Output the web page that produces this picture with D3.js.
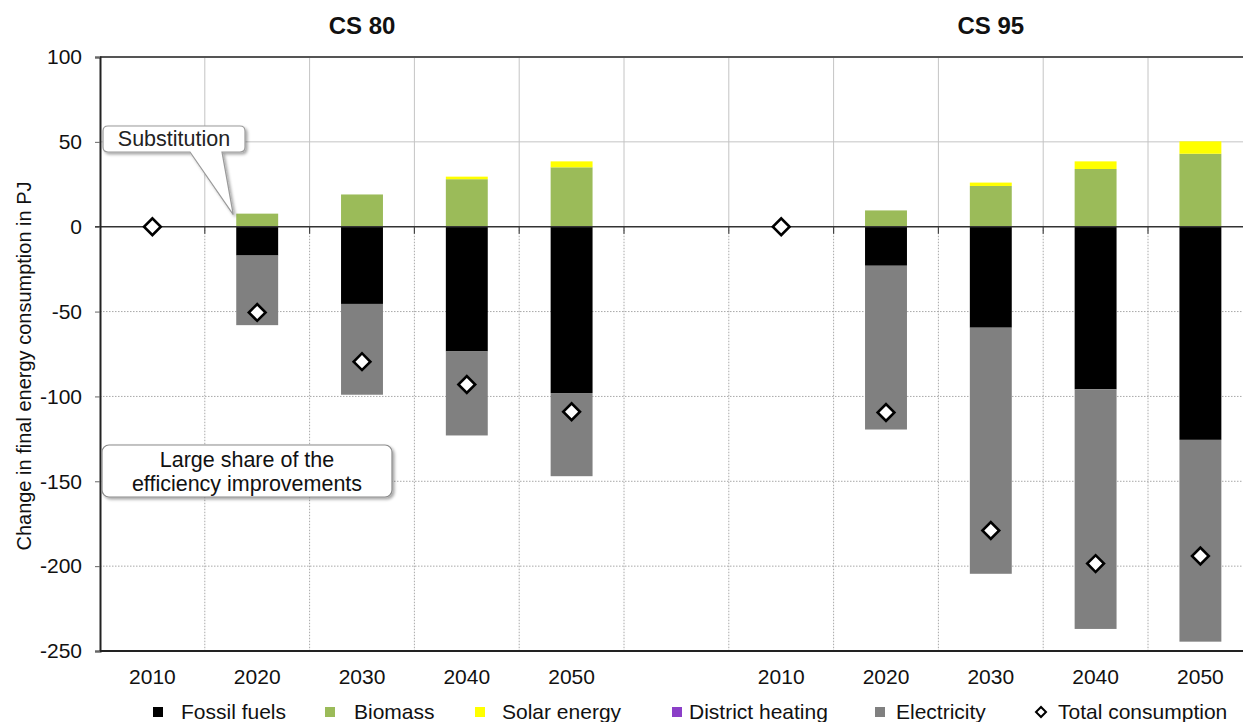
<!DOCTYPE html>
<html>
<head>
<meta charset="utf-8">
<script src="https://cdn.jsdelivr.net/npm/d3@7"></script>
<style>
  html, body { margin: 0; padding: 0; background: #fff; }
  svg { display: block; font-family: "Liberation Sans", Arial, sans-serif; }
</style>
</head>
<body>
<svg id="chart" width="1243" height="722"></svg>
<script>
// ---------------- DATA ----------------
const scenarios = ["CS 80", "CS 95"];
const years = ["2010", "2020", "2030", "2040", "2050"];
const seriesNames = ["Fossil fuels", "Biomass", "Solar energy", "District heating", "Electricity"];
const seriesColors = ["#000000", "#9bbb59", "#ffff00", "#8b3fc8", "#808080"];
const totalName = "Total consumption";

// CS 80
const fossil80   = [0, -17,   -45.5, -73.5, -98];
const biomass80  = [0,   7.7,  19,    28,    35];
const solar80    = [0,   0,     0,     1.5,   3.5];
const district80 = [0,   0,     0,     0,     0];
const elec80     = [0, -41,   -53.5, -49.5, -49];
const total80    = [0, -50.5, -79.5, -93,  -109];

// CS 95
const fossil95   = [0, -23,   -59.5, -95.8, -125.6];
const biomass95  = [0,   9.6,  24,    34,     43];
const solar95    = [0,   0,     2,     4.5,    7.3];
const district95 = [0,   0,     0,     0,      0];
const elec95     = [0, -96.5, -145, -141.2, -118.9];
const total95    = [0, -109.5, -179, -198.5, -194];

const yTicks = [100, 50, 0, -50, -100, -150, -200, -250];

// ---------------- BUILD ----------------
(function () {
const FS = 21;
const keys = ["fossil", "biomass", "solar", "district", "elec"];
const sets = [
  {fossil: fossil80, biomass: biomass80, solar: solar80, district: district80, elec: elec80, total: total80},
  {fossil: fossil95, biomass: biomass95, solar: solar95, district: district95, elec: elec95, total: total95}
];
const rows = [];
const slots = [];
scenarios.forEach((s, si) => {
  years.forEach((yr, yi) => {
    const id = s + "|" + yr;
    slots.push(id);
    const r = {id, scenario: s, year: yr, total: sets[si].total[yi]};
    keys.forEach(k => r[k] = sets[si][k][yi]);
    rows.push(r);
  });
  if (si === 0) slots.push("gap");
});

const svg = d3.select("#chart");
const W = 1243;
const pLeft = 100, pTop = 57, pBottom = 651;

const x = d3.scaleBand().domain(slots).range([pLeft, 1252.8]).padding(0);
const y = d3.scaleLinear().domain([-250, 100]).range([pBottom, pTop]);
const step = x.step();
const bw = step * 0.40;

const defs = svg.append("defs");
const f = defs.append("filter").attr("id", "shadow").attr("x", "-10%").attr("y", "-20%").attr("width", "130%").attr("height", "160%");
f.append("feDropShadow").attr("dx", 2).attr("dy", 2).attr("stdDeviation", 1.6).attr("flood-color", "#000").attr("flood-opacity", 0.35);

const clip = defs.append("clipPath").attr("id", "plotclip");
clip.append("rect").attr("x", pLeft).attr("y", pTop).attr("width", W - pLeft).attr("height", pBottom - pTop);

// Gridlines
const grid = svg.append("g").attr("clip-path", "url(#plotclip)");
const bounds = d3.range(1, slots.length + 1).map(i => pLeft + i * step);
grid.selectAll("line.vup").data(bounds).join("line")
  .attr("x1", d => d).attr("x2", d => d).attr("y1", pTop).attr("y2", y(0))
  .attr("stroke", "#c4c4c4").attr("stroke-width", 1);
grid.selectAll("line.vdn").data(bounds).join("line")
  .attr("x1", d => d).attr("x2", d => d).attr("y1", y(0)).attr("y2", pBottom)
  .attr("stroke", "#a8a8a8").attr("stroke-width", 1).attr("stroke-dasharray", "1.5,1.5");
const hg = yTicks.filter(v => v !== 100 && v !== 0 && v !== -250);
grid.selectAll("line.h").data(hg).join("line")
  .attr("x1", pLeft).attr("x2", W).attr("y1", d => y(d)).attr("y2", d => y(d))
  .attr("stroke", d => d > 0 ? "#c4c4c4" : "#a8a8a8")
  .attr("stroke-width", 1)
  .attr("stroke-dasharray", d => d > 0 ? null : "1.5,1.5");

// Bars
const stack = d3.stack().keys(keys).offset(d3.stackOffsetDiverging);
const stacked = stack(rows);
const barsG = svg.append("g");
stacked.forEach((layer, li) => {
  barsG.append("g").attr("fill", seriesColors[li])
    .selectAll("rect").data(layer.filter(d => Math.abs(d[1] - d[0]) > 0)).join("rect")
    .attr("x", d => x(d.data.id) + (step - bw) / 2)
    .attr("width", bw)
    .attr("y", d => y(Math.max(d[0], d[1])))
    .attr("height", d => Math.abs(y(d[0]) - y(d[1])));
});

// frame lines
svg.append("line").attr("x1", pLeft).attr("x2", W).attr("y1", y(100)).attr("y2", y(100)).attr("stroke", "#555").attr("stroke-width", 2);
svg.append("line").attr("x1", pLeft).attr("x2", W).attr("y1", y(-250)).attr("y2", y(-250)).attr("stroke", "#222").attr("stroke-width", 2);
svg.append("line").attr("x1", pLeft - 5).attr("x2", W).attr("y1", y(0)).attr("y2", y(0)).attr("stroke", "#333").attr("stroke-width", 1.6);
svg.append("g").selectAll("line").data(bounds.filter(b => b < W)).join("line")
  .attr("x1", d => d).attr("x2", d => d).attr("y1", y(0)).attr("y2", y(0) + 7)
  .attr("stroke", "#444").attr("stroke-width", 1.2);

// Y axis
const yAxis = d3.axisLeft(y).tickValues(yTicks).tickSize(5).tickPadding(13).tickFormat(d => String(d));
const ya = svg.append("g").attr("transform", `translate(${pLeft},0)`).call(yAxis);
ya.attr("font-family", null).attr("font-size", null);
ya.select(".domain").attr("stroke", "#222").attr("stroke-width", 2);
ya.selectAll(".tick line").attr("stroke", "#666");
ya.selectAll(".tick text").attr("font-size", FS).attr("fill", "#111");

// X axis labels
const xAxis = d3.axisBottom(x).tickSize(0).tickPadding(18)
  .tickFormat(d => d === "gap" ? "" : d.split("|")[1]);
const xa = svg.append("g").attr("transform", `translate(0,${pBottom})`).call(xAxis);
xa.attr("font-family", null).attr("font-size", null);
xa.select(".domain").remove();
xa.selectAll(".tick text").attr("font-size", FS).attr("fill", "#111");

// Scenario titles
svg.append("g").selectAll("text").data(scenarios).join("text")
  .attr("x", d => x(d + "|2030") + step / 2)
  .attr("y", 34)
  .attr("text-anchor", "middle")
  .attr("font-weight", "bold")
  .attr("font-size", 24)
  .attr("fill", "#111")
  .text(d => d);

// Y label
svg.append("text")
  .attr("transform", "translate(31,366) rotate(-90)")
  .attr("text-anchor", "middle")
  .attr("font-size", 20)
  .attr("fill", "#111")
  .text("Change in final energy consumption in PJ");

// Total consumption diamonds
const diamond = d3.symbol().type(d3.symbolSquare).size(140);
svg.append("g").selectAll("path").data(rows).join("path")
  .attr("d", diamond)
  .attr("transform", d => `translate(${x(d.id) + step / 2},${y(d.total)}) rotate(45)`)
  .attr("fill", "#fff").attr("stroke", "#000").attr("stroke-width", 2.6);

// Callout 1: Substitution
{
  const target = rows.find(r => r.id === "CS 80|2020");
  const tipX = x(target.id) + (step - bw) / 2 - 3;
  const tipY = y(target.biomass) + 1;
  const x0 = 103, y0 = 126, x1 = 245, y1 = 152, r = 5, t0 = 190, t1 = 222;
  const p = `M${x0 + r},${y0} H${x1 - r} Q${x1},${y0} ${x1},${y0 + r} V${y1 - r} Q${x1},${y1} ${x1 - r},${y1} H${t1} L${tipX},${tipY} L${t0},${y1} H${x0 + r} Q${x0},${y1} ${x0},${y1 - r} V${y0 + r} Q${x0},${y0} ${x0 + r},${y0} Z`;
  svg.append("path").attr("d", p).attr("fill", "#fff").attr("stroke", "#9a9a9a").attr("stroke-width", 1.2).attr("filter", "url(#shadow)");
  svg.append("text").attr("x", (x0 + x1) / 2).attr("y", 146).attr("text-anchor", "middle")
    .attr("font-size", 21.5).attr("fill", "#222").text("Substitution");
}

// Callout 2
{
  const x0 = 102, y0 = 445, w = 290, h = 52;
  svg.append("rect").attr("x", x0).attr("y", y0).attr("width", w).attr("height", h).attr("rx", 7)
    .attr("fill", "#fff").attr("stroke", "#8a8a8a").attr("stroke-width", 1.2).attr("filter", "url(#shadow)");
  svg.append("text").attr("x", x0 + w / 2).attr("y", 467).attr("text-anchor", "middle")
    .attr("font-size", 21.5).attr("fill", "#111").text("Large share of the");
  svg.append("text").attr("x", x0 + w / 2).attr("y", 491).attr("text-anchor", "middle")
    .attr("font-size", 21.5).attr("fill", "#111").text("efficiency improvements");
}

// Legend
const legendMarkX = [153, 325, 475, 672, 875];
const legendTextX = [181, 354, 502, 689, 896];
const lg = svg.append("g");
seriesNames.forEach((name, i) => {
  lg.append("rect").attr("x", legendMarkX[i]).attr("y", 707).attr("width", 10).attr("height", 10).attr("fill", seriesColors[i]);
  lg.append("text").attr("x", legendTextX[i]).attr("y", 719).attr("font-size", FS).attr("fill", "#111").text(name);
});
lg.append("path").attr("d", d3.symbol().type(d3.symbolSquare).size(50))
  .attr("transform", "translate(1041,712) rotate(45)")
  .attr("fill", "#fff").attr("stroke", "#000").attr("stroke-width", 2);
lg.append("text").attr("x", 1058).attr("y", 719).attr("font-size", FS).attr("fill", "#111").text(totalName);
})();
</script>
</body>
</html>
